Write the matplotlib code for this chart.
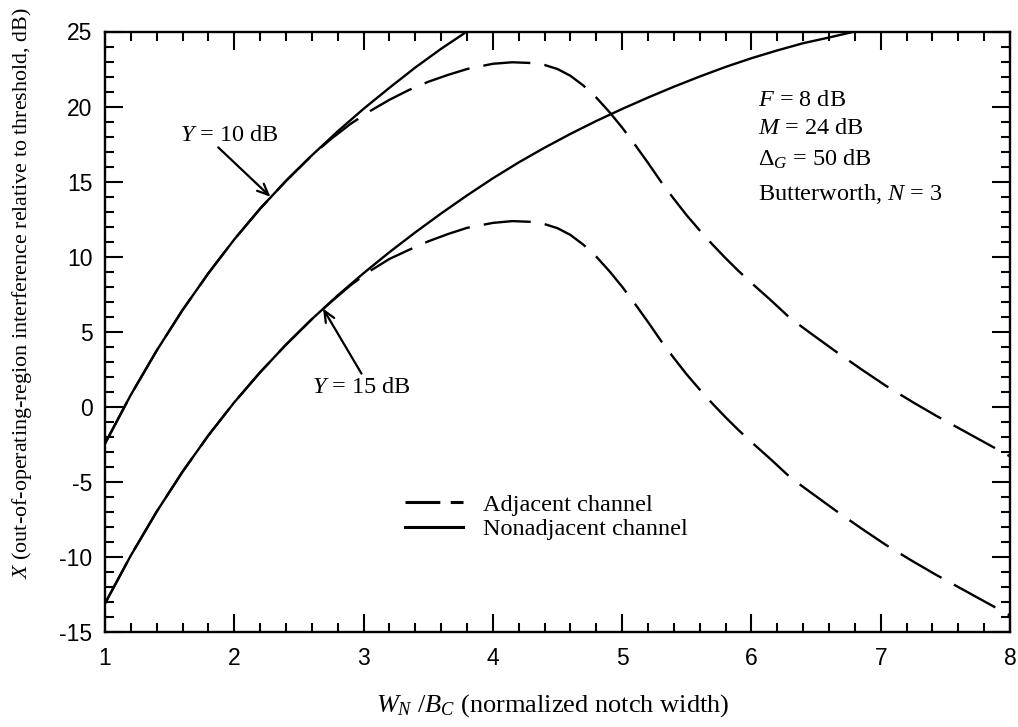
import matplotlib
matplotlib.use("Agg")
import matplotlib.pyplot as plt
from matplotlib.lines import Line2D

plt.rcParams['font.family'] = ['Liberation Serif', 'DejaVu Serif']
plt.rcParams['mathtext.fontset'] = 'custom'
plt.rcParams['mathtext.rm'] = 'Liberation Serif'
plt.rcParams['mathtext.it'] = 'Liberation Serif:italic'
plt.rcParams['mathtext.bf'] = 'Liberation Serif:bold'
plt.rcParams['axes.unicode_minus'] = False

# nonadjacent channel (solid)
x_ns10 = [1.0, 1.2, 1.4, 1.6, 1.8, 2.0, 2.2, 2.4, 2.6, 2.8, 3.0, 3.2, 3.4,
          3.6, 3.8]
y_ns10 = [-2.45, 0.8, 3.75, 6.45, 8.9, 11.15, 13.2, 15.05, 16.75, 18.35,
          19.85, 21.25, 22.6, 23.85, 25.0]
x_ns15 = [1.0, 1.2, 1.4, 1.6, 1.8, 2.0, 2.2, 2.4, 2.6, 2.8, 3.0, 3.2, 3.4,
          3.6, 3.8, 4.0, 4.2, 4.4, 4.6, 4.8, 5.0, 5.2, 5.4, 5.6, 5.8, 6.0,
          6.2, 6.4, 6.6, 6.8]
y_ns15 = [-13.1, -9.9, -6.98, -4.32, -1.9, 0.3, 2.3, 4.14, 5.84, 7.42, 8.9,
          10.3, 11.62, 12.88, 14.08, 15.22, 16.28, 17.26, 18.18, 19.04, 19.84,
          20.6, 21.32, 22.0, 22.64, 23.22, 23.74, 24.22, 24.6, 25.0]

# adjacent channel (dashed)
x_adj = [1.0, 1.2, 1.4, 1.6, 1.8, 2.0, 2.2, 2.4, 2.6, 2.75, 2.9, 3.05, 3.2,
         3.35, 3.5, 3.65, 3.8, 4.0, 4.15, 4.3, 4.4, 4.5, 4.6, 4.7, 4.8, 4.9,
         5.0, 5.1, 5.2, 5.3, 5.4, 5.5, 5.6, 5.7, 5.8, 5.9, 6.0, 6.15, 6.3,
         6.45, 6.65, 6.85, 7.04, 7.25, 7.43, 7.62, 7.81, 8.0]
y_adj10 = [-2.45, 0.8, 3.75, 6.45, 8.9, 11.15, 13.2, 15.05, 16.75, 17.85,
           18.85, 19.7, 20.45, 21.1, 21.65, 22.1, 22.5, 22.85, 22.95, 22.9,
           22.77, 22.5, 22.05, 21.4, 20.6, 19.65, 18.6, 17.45, 16.25, 15.0,
           13.85, 12.75, 11.75, 10.8, 9.9, 9.05, 8.25, 7.1, 5.9, 4.95, 3.7,
           2.5, 1.4, 0.3, -0.6, -1.5, -2.4, -3.3]
y_adj15 = [-13.1, -9.9, -6.98, -4.32, -1.9, 0.3, 2.3, 4.14, 5.84, 7.0,
           8.1, 9.05, 9.85, 10.45, 11.02, 11.5, 11.92, 12.25, 12.37, 12.32,
           12.17, 11.9, 11.45, 10.8, 10.0, 9.05, 8.0, 6.85, 5.65, 4.4,
           3.25, 2.15, 1.15, 0.2, -0.7, -1.55, -2.35, -3.5, -4.7, -5.65, -6.9,
           -8.1, -9.2, -10.3, -11.2, -12.1, -13.0, -13.9]

params = [r"$F$ = 8 dB", r"$M$ = 24 dB", r"$\mathrm{\Delta}_G$ = 50 dB",
          r"Butterworth, $N$ = 3"]

fs = 17.5
lw = 1.7

fig = plt.figure(figsize=(10.18, 7.27), dpi=100)
ax = fig.add_axes([105/1018, 1 - 632/727, 905/1018, 600.5/727])

ax.plot(x_ns10, y_ns10, color='k', lw=lw)
ax.plot(x_ns15, y_ns15, color='k', lw=lw)
ax.plot(x_adj, y_adj10, color='k', lw=lw, dashes=(20, 6))
ax.plot(x_adj, y_adj15, color='k', lw=lw, dashes=(20, 6))

ax.set_xlim(1, 8)
ax.set_ylim(-15, 25)
ax.set_xticks(range(1, 9))
ax.set_yticks(range(-15, 26, 5))
ax.set_xticks([1 + 0.2*i for i in range(36)], minor=True)
ax.set_yticks(range(-15, 26), minor=True)
ax.tick_params(which='both', direction='in', top=True, right=True, width=1.5)
ax.tick_params(which='major', length=13)
ax.tick_params(axis='x', which='major', pad=11)
ax.tick_params(axis='y', which='major', pad=9)
ax.tick_params(which='minor', length=6.5)
for lab in ax.get_xticklabels() + ax.get_yticklabels():
    lab.set_family('Liberation Sans')
    lab.set_fontsize(16.5)
for sp in ax.spines.values():
    sp.set_linewidth(1.7)

ax.set_xlabel(r"$W_N$ /$B_C$ (normalized notch width)", fontsize=19, va='center')
ax.xaxis.set_label_coords(0.495, -0.122)
ax.set_ylabel(r"$X$ (out-of-operating-region interference relative to threshold, dB)",
              fontsize=15.8, va='center')
ax.yaxis.set_label_coords(-0.0917, 0.565)

arr = dict(arrowstyle='->,head_length=0.8,head_width=0.35', color='k', lw=1.6,
           shrinkA=0, shrinkB=0)
ax.annotate('', xy=(2.28, 13.99), xytext=(1.876, 17.28), arrowprops=arr)
ax.text(1.962, 18.1, r"$Y$ = 10 dB", fontsize=fs, ha='center', va='center')
ax.annotate('', xy=(2.686, 6.55), xytext=(2.984, 2.21), arrowprops=arr)
ax.text(2.98, 1.27, r"$Y$ = 15 dB", fontsize=fs, ha='center', va='center')

for i, t in enumerate(params):
    ax.text(6.05, [20.03, 18.17, 16.03, 13.77][i], t, fontsize=fs, va='baseline')

handles = [Line2D([], [], color='k', lw=2.2, dashes=(11.4, 3.4)),
           Line2D([], [], color='k', lw=2.2)]
ax.legend(handles, ["Adjacent channel", "Nonadjacent channel"], frameon=False,
          loc='upper left', bbox_to_anchor=(0.3315, 0.23), borderaxespad=0,
          borderpad=0, handlelength=2.4, handletextpad=0.8, labelspacing=0.1,
          prop={'family': 'Liberation Serif', 'size': fs})

fig.savefig("out.png", dpi=100)
